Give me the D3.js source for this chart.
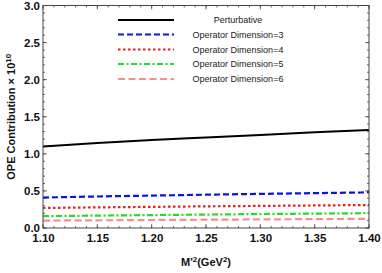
<!DOCTYPE html>
<html>
<head>
<meta charset="utf-8">
<script src="https://cdn.jsdelivr.net/npm/d3@7"></script>
<style>
  body { margin: 0; background: #fff; }
  svg { display: block; font-family: "Liberation Sans", Arial, sans-serif; }
  .tick text { font-weight: bold; font-size: 11.5px; fill: #111; }
  .axisTitle { font-weight: bold; font-size: 11px; fill: #111; }
  .legendText { font-size: 9px; fill: #222; }
</style>
</head>
<body>
<script>
//chart data
var xValues = [1.10, 1.15, 1.20, 1.25, 1.30, 1.35, 1.40];
var perturbative = [1.10, 1.145, 1.185, 1.22, 1.255, 1.29, 1.32];
var dim3 = [0.41, 0.425, 0.437, 0.449, 0.46, 0.47, 0.48];
var dim4 = [0.27, 0.278, 0.285, 0.292, 0.298, 0.304, 0.31];
var dim5 = [0.16, 0.167, 0.174, 0.181, 0.188, 0.194, 0.20];
var dim6 = [0.10, 0.104, 0.108, 0.112, 0.116, 0.12, 0.124];
var seriesNames = ["Perturbative", "Operator Dimension=3", "Operator Dimension=4", "Operator Dimension=5", "Operator Dimension=6"];
var xTicks = [1.10, 1.15, 1.20, 1.25, 1.30, 1.35, 1.40];
var yTicks = [0.0, 0.5, 1.0, 1.5, 2.0, 2.5, 3.0];

var seriesData = [perturbative, dim3, dim4, dim5, dim6];
var colors = ["#000000", "#0a14e6", "#ee1c1c", "#22dd22", "#f59090"];
var dashes = [null, "6,3", "2.5,2.5", "6,2.5,2,2.5", "7,3.5"];

var width = 382, height = 273;
var margin = {left: 43, right: 13, top: 5.5, bottom: 45};
var innerW = width - margin.left - margin.right,
    innerH = height - margin.top - margin.bottom;

var svg = d3.select("body").append("svg")
    .attr("width", width)
    .attr("height", height);

var g = svg.append("g")
    .attr("transform", "translate(" + margin.left + "," + margin.top + ")");

var x = d3.scaleLinear().domain([1.10, 1.40]).range([0, innerW]);
var y = d3.scaleLinear().domain([0, 3]).range([innerH, 0]);

//minor ticks on all four sides, pointing inward
var xMinor = d3.range(1.10, 1.4001, 0.01);
var yMinor = d3.range(0, 3.0001, 0.1);

function tickLines(vals, scale, horizontal, at, len) {
    g.append("g").selectAll("line")
        .data(vals)
        .enter()
        .append("line")
        .attr("x1", function(d){ return horizontal ? scale(d) : at; })
        .attr("x2", function(d){ return horizontal ? scale(d) : at + len; })
        .attr("y1", function(d){ return horizontal ? at : scale(d); })
        .attr("y2", function(d){ return horizontal ? at + len : scale(d); })
        .attr("stroke", "#444")
        .attr("stroke-width", 0.8);
}
tickLines(xMinor, x, true, innerH, -2);
tickLines(xMinor, x, true, 0, 2);
tickLines(yMinor, y, false, 0, 2);
tickLines(yMinor, y, false, innerW, -2);
tickLines(xTicks, x, true, innerH, -4);
tickLines(xTicks, x, true, 0, 4);
tickLines(yTicks, y, false, 0, 4);
tickLines(yTicks, y, false, innerW, -4);

//axes for labels
var xAxis = g.append("g")
    .attr("transform", "translate(0," + innerH + ")")
    .call(d3.axisBottom(x).tickValues(xTicks).tickSize(0).tickPadding(6).tickFormat(d3.format(".2f")));
xAxis.select(".domain").remove();

var yAxis = g.append("g")
    .call(d3.axisLeft(y).tickValues(yTicks).tickSize(0).tickPadding(3).tickFormat(d3.format(".1f")));
yAxis.select(".domain").remove();

//lines
var line = d3.line()
    .x(function(d, i){ return x(xValues[i]); })
    .y(function(d){ return y(d); })
    .curve(d3.curveMonotoneX);

g.selectAll(".series")
    .data(seriesData)
    .enter()
    .append("path")
    .attr("class", "series")
    .attr("d", line)
    .attr("fill", "none")
    .attr("stroke", function(d, i){ return colors[i]; })
    .attr("stroke-width", function(d, i){ return i == 0 ? 2 : 2.2; })
    .attr("stroke-dasharray", function(d, i){ return dashes[i]; });

//frame
g.append("rect")
    .attr("width", innerW)
    .attr("height", innerH)
    .attr("fill", "none")
    .attr("stroke", "#444")
    .attr("stroke-width", 1);

//legend
var legend = svg.append("g");
var rowY = [20, 34.5, 49.5, 64, 79];
seriesNames.forEach(function(name, i){
    legend.append("line")
        .attr("x1", 118).attr("x2", 174)
        .attr("y1", rowY[i]).attr("y2", rowY[i])
        .attr("stroke", colors[i])
        .attr("stroke-width", i == 0 ? 2 : 2.2)
        .attr("stroke-dasharray", dashes[i]);
    legend.append("text")
        .attr("class", "legendText")
        .attr("x", 238)
        .attr("y", rowY[i] + 3)
        .attr("text-anchor", "middle")
        .text(name);
});

//axis titles
svg.append("text")
    .attr("class", "axisTitle")
    .attr("x", margin.left + innerW / 2)
    .attr("y", 266)
    .attr("text-anchor", "middle")
    .html("M'<tspan dy='-4' font-size='8px'>2</tspan><tspan dy='4'>(GeV</tspan><tspan dy='-4' font-size='8px'>2</tspan><tspan dy='4'>)</tspan>");

svg.append("text")
    .attr("class", "axisTitle")
    .attr("transform", "translate(15," + (margin.top + innerH / 2) + ") rotate(-90)")
    .attr("text-anchor", "middle")
    .html("OPE Contribution × 10<tspan dy='-4' font-size='8px'>10</tspan>");
</script>
</body>
</html>
